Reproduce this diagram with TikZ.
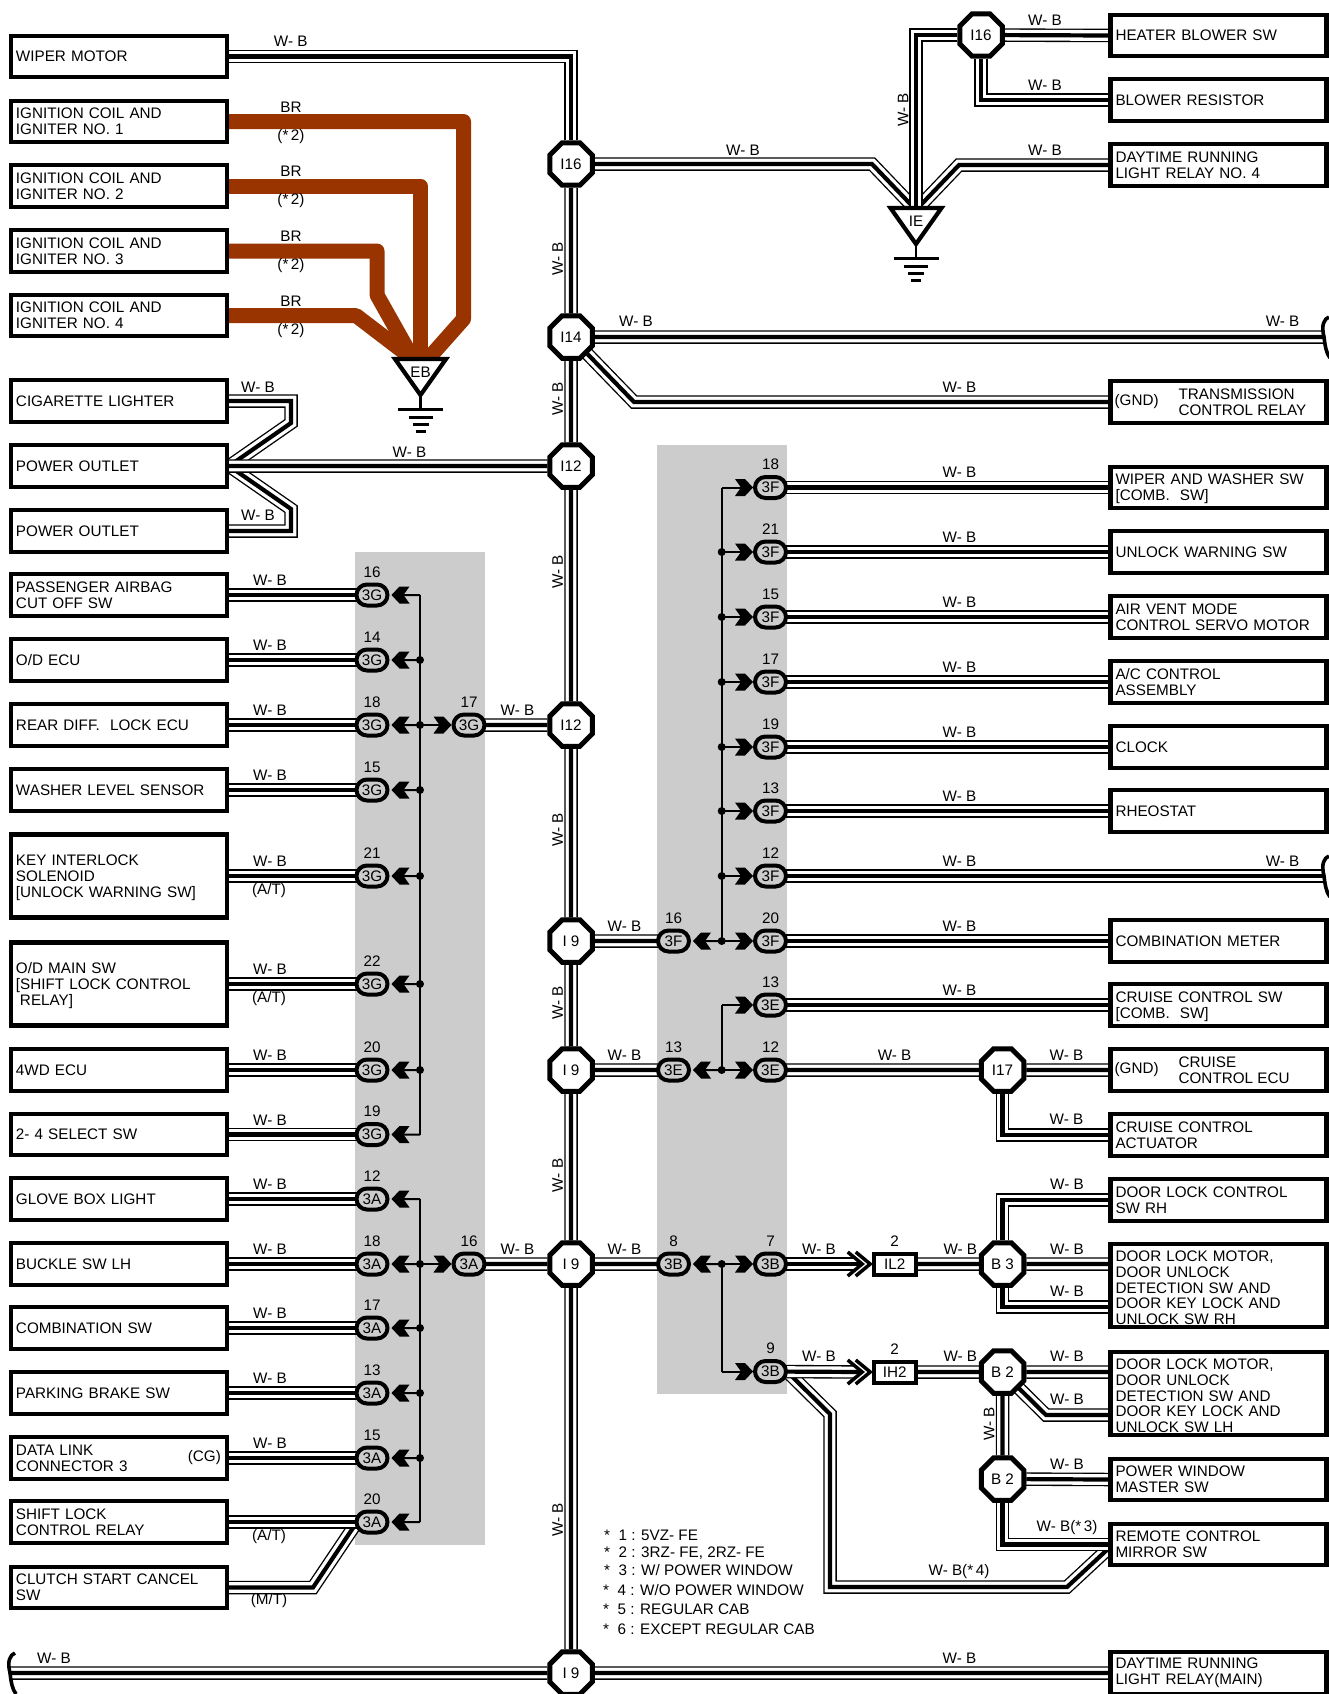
\documentclass[tikz,border=0pt]{standalone}
\usepackage{fontspec}
\setmainfont{Liberation Sans}
\usetikzlibrary{positioning,shapes.geometric,shapes.misc}
\definecolor{panelgrey}{HTML}{CCCCCC}
\definecolor{brwire}{HTML}{993300}
\pgfdeclarelayer{bg}
\pgfsetlayers{bg,main}
\pgfdeclarearrow{
	name=Tap,
	setup code={
		\pgfarrowssettipend{0pt}
		\pgfarrowssetlineend{-11pt}
		\pgfarrowssetvisualbackend{-18pt}
		\pgfarrowssetbackend{-18pt}
	},
	drawing code={
		\pgfpathmoveto{\pgfqpoint{0pt}{0pt}}
		\pgfpathlineto{\pgfqpoint{-8pt}{8.5pt}}
		\pgfpathlineto{\pgfqpoint{-18pt}{8.5pt}}
		\pgfpathlineto{\pgfqpoint{-12pt}{0pt}}
		\pgfpathlineto{\pgfqpoint{-18pt}{-8.5pt}}
		\pgfpathlineto{\pgfqpoint{-8pt}{-8.5pt}}
		\pgfpathclose
		\pgfusepathqfill
	}
}
\tikzset{
	wire/.style={line width=4.2pt,preaction={draw,line width=13.5pt},preaction={draw,white,line width=10.8pt}},
	brw/.style={draw=brwire,line width=15pt,line join=round},
	lab/.style={inner sep=0pt},
	boxbase/.style={draw,fill=white,line width=4.2pt,minimum height=41.5pt,inner xsep=5pt,inner ysep=0pt,text width=206pt,align=left},
	oct/.style={regular polygon,regular polygon sides=8,draw,fill=white,line width=5pt,minimum size=46pt,inner sep=0pt},
	plug/.style={rounded rectangle,draw,fill=panelgrey,line width=4pt,minimum width=31pt,minimum height=21pt,inner sep=0pt},
	tap/.style={line width=2pt,-{Tap}},
	tapl/.style={tap,shorten >=2pt},
	trunk/.style={line width=2pt,line cap=square},
	jn/.style={circle,fill=black,inner sep=0pt,minimum size=8pt},
	inbox/.style={draw,fill=white,line width=4pt,minimum width=42pt,minimum height=21pt,inner sep=0pt},
	pics/gnd/.style={code={
		\draw[line width=4.2pt,fill=white] (-25.5,2) -- (25.5,2) -- (0,38) -- cycle;
		\draw[line width=2.2pt] (0,40) -- (0,52);
		\draw[line width=3pt] (-22.5,52) -- (22.5,52);
		\draw[line width=3pt] (-12,60) -- (12,60);
		\draw[line width=3pt] (-8,67) -- (8,67);
		\draw[line width=3pt] (-5,74) -- (5,74);
	}},
	pics/dblchev/.style={code={
		\fill[white] (-24,-12) -- (-9.5,0) -- (-24,12) -- (-16,12) -- (-1.5,0) -- (-16,-12) -- cycle;
		\draw[line width=3.5pt] (-24,-12) -- (-9.5,0) -- (-24,12);
		\draw[line width=3.5pt] (-16,-12) -- (-1.5,0) -- (-16,12);
	}},
	pics/cutend/.style={code={
		\draw[line width=3.6pt] (5,-20) .. controls (0,-18) and (-3,-12) .. (0,0) .. controls (1,8) and (2,16) .. (6,21);
	}}
}
\begin{document}
\begin{tikzpicture}[x=1pt,y=-1pt,font=\fontsize{15.25}{15.8}\selectfont]
	\useasboundingbox (0,0) rectangle (1329,1694);
	% grey panels
	\begin{pgfonlayer}{bg}
		\fill[panelgrey] (355,552) rectangle (485,1545);
		\fill[panelgrey] (657,445) rectangle (787,1394);
	\end{pgfonlayer}
	% junctions
	\foreach \nm/\x/\y/\txt in {ia/571/164/I16, ib/571/337/I14, ic/571/466/I12, id/571/725/I12, ie/571/941/{I 9}, 
		ig/571/1070/{I 9}, ih/571/1264/{I 9}, ii/571/1673/{I 9}, ij/981/35/I16, ik/1002.5/1070/I17, 
		ba/1002.5/1264/{B 3}, bb/1002.5/1372/{B 2}, bc/1002.5/1479/{B 2}}{
		\node[oct] (\nm) at (\x,\y) {\txt};
	}
	% bus
	\begin{pgfonlayer}{bg}
		\draw[wire] (ia) -- (ib);
		\draw[wire] (ib) -- (ic);
		\draw[wire] (ic) -- (id);
		\draw[wire] (id) -- (ie);
		\draw[wire] (ie) -- (ig);
		\draw[wire] (ig) -- (ih);
		\draw[wire] (ih) -- (ii);
	\end{pgfonlayer}
	% top left box
	\node[boxbase] (lwiper) at (119,56.5) {WIPER MOTOR};
	\begin{pgfonlayer}{bg}
		\draw[wire] (lwiper.east) -| (ia);
	\end{pgfonlayer}
	% ignition coils
	\foreach \nm/\y/\txt in {lign/121.5/1, lignb/186/2, lignc/251/3, lignd/315.5/4}{
		\node[boxbase] (\nm) at (119,\y) {IGNITION COIL AND\\IGNITER NO. \txt};
		\node[lab] (br\nm) at (291,\y-14.5) {BR};
		\node[lab] (st\nm) at (291,\y+15) {(*\,2)};
	}
	\coordinate (ebtop) at (420.5,357);
	\coordinate (eba) at (463.5,319);
	\coordinate (ebb) at (377,295);
	\coordinate (ebc) at (356,315.5);
	\begin{pgfonlayer}{bg}
		\draw[brw] (lign.east) -| (eba) -- (428,359);
		\draw[brw] (lignb.east) -| (ebtop);
		\draw[brw] (lignc.east) -| (ebb) -- (413,359);
		\draw[brw] (lignd.east) -- (ebc) -- (409,356);
	\end{pgfonlayer}
	\pic at (ebtop) {gnd};
	\node[lab] (eb) at (420.5,372) {EB};
	% cigarette lighter and outlets
	\node[boxbase] (lcig) at (119,401) {CIGARETTE LIGHTER};
	\node[boxbase] (lout) at (119,466) {POWER OUTLET};
	\node[boxbase] (loutb) at (119,531) {POWER OUTLET};
	\begin{pgfonlayer}{bg}
		\draw[wire] (lcig.east) -- (291,401) -- (291,423) -- (lout.east);
		\draw[wire] (loutb.east) -- (291,531) -- (291,509) -- (lout.east);
		\draw[wire] (lout.east) -- (ic);
	\end{pgfonlayer}
	% left plug 3G
	\foreach \nm/\y/\num in {ga/595/16, gb/660/14, gc/725/18, gd/790/15, ge/876/21, gf/984/22, gg/1070/20, gh/1134.5/19}{
		\node[plug] (\nm) at (372,\y) {3G};
		\node[lab] (n\nm) at (372,\y-23) {\num};
		\coordinate (t\nm) at (420,\y);
		\draw[tapl] (t\nm) -- (\nm);
	}
	\draw[trunk] (tga) -- (tgh);
	\foreach \nm in {gb,gc,gd,ge,gf,gg}{
		\node[jn] (j\nm) at (t\nm) {};
	}
	% left plug 3A
	\foreach \nm/\y/\num in {aa/1199/12, ab/1264/18, ac/1328/17, ad/1393/13, ae/1458/15, af/1522/20}{
		\node[plug] (\nm) at (372,\y) {3A};
		\node[lab] (n\nm) at (372,\y-23) {\num};
		\coordinate (t\nm) at (420,\y);
		\draw[tapl] (t\nm) -- (\nm);
	}
	\draw[trunk] (taa) -- (taf);
	\foreach \nm in {ab,ac,ad,ae}{
		\node[jn] (j\nm) at (t\nm) {};
	}
	% plugs towards bus
	\node[plug] (gz) at (469,725) {3G};
	\node[lab] (ngz) at (469,702) {17};
	\draw[tap] (tgc) -- (gz);
	\node[plug] (az) at (469,1264) {3A};
	\node[lab] (naz) at (469,1241) {16};
	\draw[tap] (tab) -- (az);
	\begin{pgfonlayer}{bg}
		\draw[wire] (gz.center) -- (id);
		\draw[wire] (az.center) -- (ih);
	\end{pgfonlayer}
	% left boxes
	\foreach \bx/\y/\h/\txt/\pl in {lpass/595/41.5/{PASSENGER AIRBAG\\CUT OFF SW}/ga, lodecu/660/41.5/{O/D ECU}/gb, 
		lrear/725/41.5/{REAR DIFF.~~LOCK ECU}/gc, lwash/790/41.5/{WASHER LEVEL SENSOR}/gd, 
		lkey/876/83/{KEY INTERLOCK\\SOLENOID\\\smash{[UNLOCK WARNING SW]}}/ge, 
		lodm/984/83/{O/D MAIN SW\\\smash{[SHIFT LOCK CONTROL}\\\hspace*{4pt}\smash{RELAY]}}/gf, 
		lfwd/1070/41.5/{4WD ECU}/gg, lsel/1134.5/41.5/{2- 4 SELECT SW}/gh, lglove/1199/41.5/{GLOVE BOX LIGHT}/aa, 
		lbuck/1264/41.5/{BUCKLE SW LH}/ab, lcomb/1328/41.5/{COMBINATION SW}/ac, lpark/1393/41.5/{PARKING BRAKE SW}/ad, 
		ldata/1458/41.5/{DATA LINK\\CONNECTOR 3}/ae}{
		\node[boxbase,minimum height=\h pt] (\bx) at (119,\y) {\txt};
		\node[lab] (w\bx) at (270,\y-14.5) {W- B};
		\begin{pgfonlayer}{bg}
			\draw[wire] (\bx.east) -- (\pl.center);
		\end{pgfonlayer}
	}
	\node[lab,left=8pt of ldata.east] (cg) {(CG)};
	\node[boxbase] (lshift) at (119,1522) {SHIFT LOCK\\CONTROL RELAY};
	\node[boxbase] (lclutch) at (119,1587.5) {CLUTCH START CANCEL\\SW};
	\coordinate (afin) at (357,1522);
	\begin{pgfonlayer}{bg}
		\draw[wire] (lclutch.east) -- (313,1587.5) -- (afin);
		\draw[wire] (lshift.east) -- (af.center);
	\end{pgfonlayer}
	\foreach \nm/\y/\txt in {ta/890.5/{(A/T)}, tb/999/{(A/T)}, tc/1537/{(A/T)}, td/1601/{(M/T)}}{
		\node[lab] (\nm) at (269,\y) {\txt};
	}
	% right plugs
	\foreach \nm/\y/\num/\tg/\bx/\txt in {fa/487.5/18/3F/rwiper/{WIPER AND WASHER SW\\\smash{[COMB.~~SW]}}, 
		fb/552/21/3F/runlock/{UNLOCK WARNING SW}, fc/617/15/3F/rair/{AIR VENT MODE\\CONTROL SERVO MOTOR}, 
		fd/682/17/3F/racc/{A/C CONTROL\\ASSEMBLY}, fe/747/19/3F/rclock/{CLOCK}, ff/811/13/3F/rrheo/{RHEOSTAT}, 
		fh/941/20/3F/rmeter/{COMBINATION METER}, ea/1005/13/3E/rcruise/{CRUISE CONTROL SW\\\smash{[COMB.~~SW]}}}{
		\node[plug] (\nm) at (770.5,\y) {\tg};
		\node[lab] (n\nm) at (770.5,\y-23) {\num};
		\coordinate (t\nm) at (721.7,\y);
		\draw[tap] (t\nm) -- (\nm);
		\node[boxbase] (\bx) at (1218.5,\y) {\txt};
		\node[lab] (w\bx) at (959.5,\y-15) {W- B};
		\begin{pgfonlayer}{bg}
			\draw[wire] (\nm.center) -- (\bx.west);
		\end{pgfonlayer}
	}
	\foreach \nm/\y/\num/\tg in {fg/876/12/3F, eb/1070/12/3E, ca/1264/7/3B, cb/1371.5/9/3B}{
		\node[plug] (\nm) at (770.5,\y) {\tg};
		\node[lab] (n\nm) at (770.5,\y-23) {\num};
		\coordinate (t\nm) at (721.7,\y);
		\draw[tap] (t\nm) -- (\nm);
	}
	\draw[trunk] (tfa) -- (tfh);
	\draw[trunk] (tea) -- (teb);
	\draw[trunk] (tca) -- (tcb);
	\foreach \nm in {fb,fc,fd,fe,ff,fg,fh,eb,ca}{
		\node[jn] (j\nm) at (t\nm) {};
	}
	% plugs from bus
	\foreach \nm/\y/\num/\tg/\tw/\bs in {fz/941/16/3F/fh/ie, ez/1070/13/3E/eb/ig, cz/1264/8/3B/ca/ih}{
		\node[plug] (\nm) at (673.5,\y) {\tg};
		\node[lab] (n\nm) at (673.5,\y-23) {\num};
		\draw[tapl] (t\tw) -- (\nm);
		\begin{pgfonlayer}{bg}
			\draw[wire] (\bs) -- (\nm.center);
		\end{pgfonlayer}
	}
	% open wires
	\coordinate (cuta) at (1324,337);
	\coordinate (cutb) at (1324,876);
	\coordinate (cutc) at (10,1673);
	\begin{pgfonlayer}{bg}
		\draw[wire] (ib) -- (cuta);
		\draw[wire] (fg.center) -- (cutb);
		\draw[wire] (cutc) -- (ii);
	\end{pgfonlayer}
	\pic at (cuta) {cutend};
	\pic at (cutb) {cutend};
	\pic at (cutc) {cutend};
	% top right
	\node[boxbase] (rheat) at (1218.5,35.5) {HEATER BLOWER SW};
	\node[boxbase] (rblow) at (1218.5,100) {BLOWER RESISTOR};
	\node[boxbase] (rday) at (1218.5,165) {DAYTIME RUNNING\\LIGHT RELAY NO. 4};
	\coordinate (ietop) at (916,206);
	\begin{pgfonlayer}{bg}
		\draw[wire] (ia) -- (872,164) -- (917,211);
		\draw[wire] (rday.west) -- (959,165) -- (915,211);
		\draw[wire] (ij) -| (ietop);
		\draw[wire] (ij) -- (rheat.west);
		\draw[wire] (ij) |- (rblow.west);
	\end{pgfonlayer}
	\pic at (ietop) {gnd};
	\node[lab] (ieg) at (916,221) {IE};
	% transmission relay
	\node[boxbase] (rtrans) at (1218.5,402) {};
	\node[lab,right=6pt of rtrans.west] (gnda) {(GND)};
	\node[lab,right=70pt of rtrans.west,align=left] (ttrans) {TRANSMISSION\\CONTROL RELAY};
	\begin{pgfonlayer}{bg}
		\draw[wire] (ib.center) -- (634,402) -- (rtrans.west);
	\end{pgfonlayer}
	% cruise
	\node[boxbase] (recu) at (1218.5,1070) {};
	\node[lab,right=6pt of recu.west] (gndb) {(GND)};
	\node[lab,right=70pt of recu.west,align=left] (tecu) {CRUISE\\CONTROL ECU};
	\node[boxbase] (ract) at (1218.5,1135) {CRUISE CONTROL\\ACTUATOR};
	\begin{pgfonlayer}{bg}
		\draw[wire] (eb.center) -- (ik);
		\draw[wire] (ik) -- (recu.west);
		\draw[wire] (ik) |- (ract.west);
	\end{pgfonlayer}
	% door locks
	\node[inbox] (il) at (894.7,1264) {IL2};
	\node[inbox] (ih2) at (894.7,1372) {IH2};
	\node[lab] (nil) at (894.7,1241) {2};
	\node[lab] (nih) at (894.7,1349) {2};
	\coordinate (ilin) at (863,1264);
	\coordinate (ihin) at (863,1372);
	\coordinate (cbout) at (787,1371.5);
	\node[boxbase] (rdoor) at (1218.5,1200) {DOOR LOCK CONTROL\\SW RH};
	\node[boxbase,minimum height=83.5pt] (rmotor) at (1218.5,1285.5) {\rule{0pt}{15.5pt}DOOR LOCK MOTOR,\\DOOR UNLOCK\\DETECTION SW AND\\DOOR KEY LOCK AND\\UNLOCK SW RH};
	\node[boxbase,minimum height=83.5pt] (rmotorb) at (1218.5,1393.5) {\rule{0pt}{15.5pt}DOOR LOCK MOTOR,\\DOOR UNLOCK\\DETECTION SW AND\\DOOR KEY LOCK AND\\UNLOCK SW LH};
	\node[boxbase] (rwin) at (1218.5,1479.5) {POWER WINDOW\\MASTER SW};
	\node[boxbase] (rmir) at (1218.5,1544.5) {REMOTE CONTROL\\MIRROR SW};
	\node[boxbase] (rmain) at (1218.5,1673) {DAYTIME RUNNING\\LIGHT RELAY(MAIN)};
	\coordinate (rma) at (1109,1307);
	\coordinate (rmb) at (1109,1415);
	\begin{pgfonlayer}{bg}
		\draw[wire] (cbout) -- (830,1414) -- (830,1587) -- (1067,1587) -- (1109,1548);
		\draw[wire] (ca.center) -- (ilin);
		\draw[wire] (cb.center) -- (ihin);
		\draw[wire] (il.east) -- (ba);
		\draw[wire] (ih2.east) -- (bb);
		\draw[wire] (ba) |- (rdoor.west);
		\draw[wire] (ba) -- (rmotor.west |- ba);
		\draw[wire] (ba) |- (rma);
		\draw[wire] (bb.center) -- (1046,1415) -- (rmb);
		\draw[wire] (bb) -- (rmotorb.west |- bb);
		\draw[wire] (bb) -- (bc);
		\draw[wire] (bc) -- (rwin.west);
		\draw[wire] (bc) |- (rmir.west);
		\draw[wire] (ii) -- (rmain.west);
	\end{pgfonlayer}
	\pic at (il.west) {dblchev};
	\pic at (ih2.west) {dblchev};
	% remaining wire labels
	\foreach \nm/\x/\y in {la/290.7/41.5, lb/258/387.5, lc/258/515.5, ld/409.5/452, le/517.5/710, lf/517.5/1249, 
		lg/54/1658.5, lh/624.5/926, li/624.5/1055, lj/624.5/1249, lk/959.5/1658.5, ll/636/321.5, lm/1282.6/321.5, ln/1282.6/861, 
		lo/959.5/861, lp/959.5/387.5, lq/743/150, lr/1045/20, ls/1045/85, lt/1045/150, lu/894.6/1055, lv/1066.5/1055, 
		lw/1066.5/1119, lx/819/1249, ly/819/1356.5, lz/960.3/1249, maa/960.3/1356.5, mab/1067/1184.5, mac/1067/1249, 
		mad/1067/1291, mae/1067/1356.5, maf/1067/1399.5, mag/1067/1464}{
		\node[lab] (\nm) at (\x,\y) {W- B};
	}
	\node[lab] (lthree) at (1067,1528) {W- B(*\,3)};
	\node[lab] (lfour) at (959,1572) {W- B(*\,4)};
	\foreach \nm/\x/\y in {va/557.5/259, vb/557.5/399, vc/557.5/572, vd/557.5/830, ve/557.5/1003, vf/557.5/1175.5, 
		vg/557.5/1520, vh/903/110, vi/989/1424}{
		\node[lab,rotate=90] (\nm) at (\x,\y) {W- B};
	}
	% notes
	\foreach \nm/\x/\y/\txt in {na/604/1535.5/{*~~1 : 5VZ- FE}, nb/604/1553.5/{*~~2 : 3RZ- FE, 2RZ- FE}, nc/604/1570/{*~~3 : W/ POWER WINDOW}, 
		nd/603/1590.5/{*~~4 : W/O POWER WINDOW}, ne/603/1609/{*~~5 : REGULAR CAB}, nf/603/1629.5/{*~~6 : EXCEPT REGULAR CAB}}{
		\node[lab,anchor=west] (\nm) at (\x,\y) {\txt};
	}
\end{tikzpicture}
\end{document}
